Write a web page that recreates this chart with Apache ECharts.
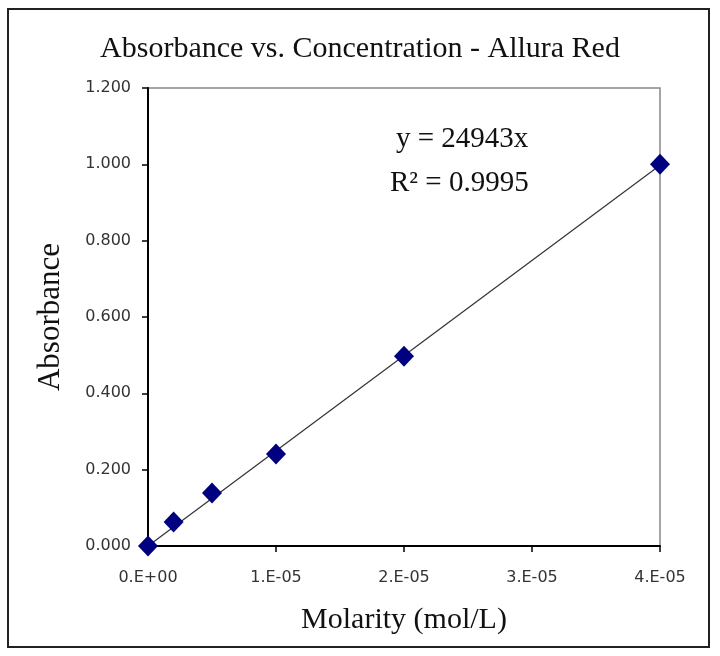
<!DOCTYPE html>
<html>
<head>
<meta charset="utf-8">
<script src="https://cdn.jsdelivr.net/npm/echarts@6/dist/echarts.min.js"></script>
<style>html,body{margin:0;padding:0;background:#fff}#c{width:720px;height:656px}</style>
</head>
<body>
<div id="c"></div>
<script>
var molarity = [0, 2e-6, 5e-6, 1e-5, 2e-5, 4e-5];
var absorbance = [0, 0.063, 0.139, 0.241, 0.497, 1.0];
var slope = 24943;
var trendX = [0, 4e-5];
var xTickLabels = {0: '0.E+00', 1: '1.E-05', 2: '2.E-05', 3: '3.E-05', 4: '4.E-05'};
var titleText = 'Absorbance vs. Concentration - Allura Red';
var eqLine1 = 'y = 24943x';
var eqLine2 = 'R\u00b2 = 0.9995';

var serif = '"Liberation Serif", "DejaVu Serif", serif';
var chart = echarts.init(document.getElementById('c'), null, {renderer: 'canvas'});
chart.setOption({
  animation: false,
  backgroundColor: '#fff',
  title: {
    text: titleText, left: 'center', top: 29,
    textStyle: {fontFamily: serif, fontWeight: 'normal', fontSize: 30, color: '#111'}
  },
  grid: {left: 148, top: 88, right: 60, bottom: 110, show: true, borderColor: '#888', borderWidth: 1.5},
  xAxis: {
    type: 'value', min: 0, max: 4e-5, interval: 1e-5,
    name: 'Molarity (mol/L)', nameLocation: 'middle', nameGap: 59,
    nameTextStyle: {fontFamily: serif, fontSize: 30, color: '#111'},
    axisLine: {show: true, onZero: false, lineStyle: {color: '#000', width: 2}},
    axisTick: {show: true, inside: false, length: 6, lineStyle: {color: '#000', width: 1.5}},
    axisLabel: {
      margin: 24, fontFamily: '"DejaVu Sans", Verdana, sans-serif', fontSize: 16, color: '#333',
      formatter: function (v) { return xTickLabels[Math.round(v / 1e-5)] || ''; }
    },
    splitLine: {show: false}
  },
  yAxis: {
    type: 'value', min: 0, max: 1.2, interval: 0.2,
    name: 'Absorbance', nameLocation: 'middle', nameGap: 82, nameRotate: 90,
    nameTextStyle: {fontFamily: serif, fontSize: 31, color: '#111'},
    axisLine: {show: true, onZero: false, lineStyle: {color: '#000', width: 2}},
    axisTick: {show: true, inside: false, length: 6, lineStyle: {color: '#000', width: 1.5}},
    axisLabel: {
      margin: 17, fontFamily: '"DejaVu Sans", Verdana, sans-serif', fontSize: 16, color: '#333',
      formatter: function (v) { return v.toFixed(3); }
    },
    splitLine: {show: false}
  },
  graphic: [
    {type: 'rect', shape: {x: 8, y: 9, width: 701, height: 638}, style: {fill: 'none', stroke: '#222', lineWidth: 2}, silent: true},
    {type: 'text', left: 396, top: 125, style: {text: eqLine1, font: '29px ' + serif, fill: '#111'}},
    {type: 'text', left: 390, top: 169, style: {text: eqLine2, font: '29px ' + serif, fill: '#111'}}
  ],
  series: [
    {
      type: 'line', data: trendX.map(function (x) { return [x, slope * x]; }),
      symbol: 'none', lineStyle: {color: '#333', width: 1.2}, z: 2
    },
    {
      type: 'scatter', data: molarity.map(function (x, i) { return [x, absorbance[i]]; }),
      symbol: 'diamond', symbolSize: [20, 21], itemStyle: {color: '#000080', opacity: 1}, z: 3, clip: false
    }
  ]
});
</script>
</body>
</html>
